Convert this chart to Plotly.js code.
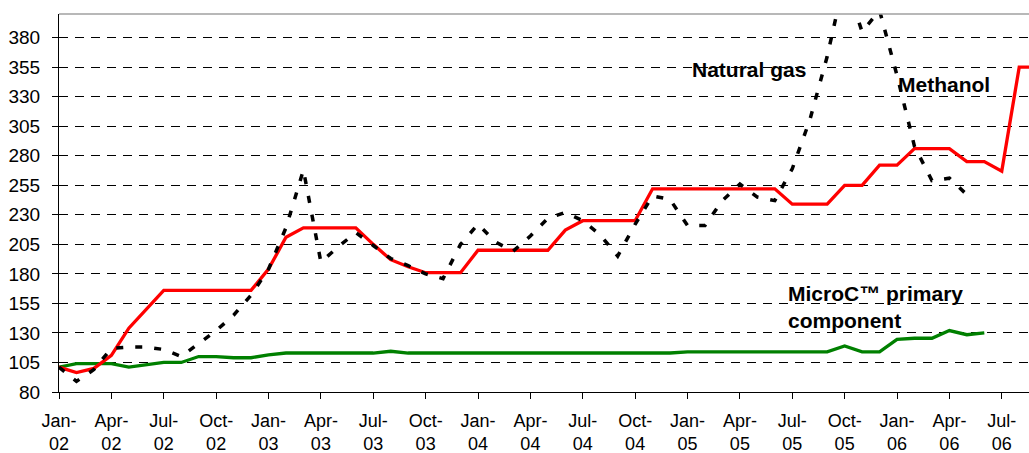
<!DOCTYPE html>
<html>
<head>
<meta charset="utf-8">
<script src="https://cdn.plot.ly/plotly-3.0.1.min.js"></script>
<style>
  html, body { margin: 0; padding: 0; background: #ffffff; }
  #chart { width: 1029px; height: 453px; }
</style>
</head>
<body>
<div id="chart"></div>
<script>
// Monthly categories Jan-02 .. Sep-06
const months = [
  "Jan-02","Feb-02","Mar-02","Apr-02","May-02","Jun-02","Jul-02","Aug-02","Sep-02","Oct-02","Nov-02","Dec-02",
  "Jan-03","Feb-03","Mar-03","Apr-03","May-03","Jun-03","Jul-03","Aug-03","Sep-03","Oct-03","Nov-03","Dec-03",
  "Jan-04","Feb-04","Mar-04","Apr-04","May-04","Jun-04","Jul-04","Aug-04","Sep-04","Oct-04","Nov-04","Dec-04",
  "Jan-05","Feb-05","Mar-05","Apr-05","May-05","Jun-05","Jul-05","Aug-05","Sep-05","Oct-05","Nov-05","Dec-05",
  "Jan-06","Feb-06","Mar-06","Apr-06","May-06","Jun-06","Jul-06","Aug-06","Sep-06"
];

// Methanol (red)
const methanol = [
  101, 96.5, 100, 111, 134, 150, 166, 166, 166, 166, 166, 166,
  184, 211, 219, 219, 219, 219, 205, 192, 186, 181, 181, 181,
  200, 200, 200, 200, 200, 217, 225, 225, 225, 225, 252, 252,
  252, 252, 252, 252, 252, 252, 239, 239, 239, 255, 255, 272,
  272, 286, 286, 286, 275, 275, 267, 355, 355
];

// Natural gas (black dashed)
const naturalGas = [
  101, 89, 99, 117, 118, 118, 116, 110, 121, 132, 145, 162,
  184, 219, 268, 190, 203, 215, 204, 193, 187, 180, 176, 205,
  222, 207, 199, 212, 227, 232, 225, 213, 195, 222, 246, 243,
  221, 221, 242, 256, 245, 242, 269, 310, 364, 430, 385, 403,
  348, 288, 259, 261, 247
];

// MicroC primary component (green)
const microC = [
  101, 104, 104, 104, 101, 103, 105, 105, 110, 110, 109, 109,
  111.5, 113, 113, 113, 113, 113, 113, 114.5, 113, 113, 113, 113,
  113, 113, 113, 113, 113, 113, 113, 113, 113, 113, 113, 113,
  114, 114, 114, 114, 114, 114, 114, 114, 114, 119, 114, 114,
  124.5, 125.5, 125.5, 132, 128.5, 130
];

// Axis tick labels (every third month)
const tickLabels = [
  "Jan-<br>02","Apr-<br>02","Jul-<br>02","Oct-<br>02",
  "Jan-<br>03","Apr-<br>03","Jul-<br>03","Oct-<br>03",
  "Jan-<br>04","Apr-<br>04","Jul-<br>04","Oct-<br>04",
  "Jan-<br>05","Apr-<br>05","Jul-<br>05","Oct-<br>05",
  "Jan-<br>06","Apr-<br>06","Jul-<br>06"
];
const tickMonths = [
  "Jan-02","Apr-02","Jul-02","Oct-02","Jan-03","Apr-03","Jul-03","Oct-03",
  "Jan-04","Apr-04","Jul-04","Oct-04","Jan-05","Apr-05","Jul-05","Oct-05",
  "Jan-06","Apr-06","Jul-06"
];
const yTicks = [80,105,130,155,180,205,230,255,280,305,330,355,380];

const idx = arr => arr.map((_, i) => i);
const tickVals = tickMonths.map(m => months.indexOf(m));

const FONT = "Liberation Sans, Arial, sans-serif";

const traces = [
  {
    x: idx(microC), y: microC, type: "scatter", mode: "lines",
    line: { color: "#008000", width: 3.3 }, name: "MicroC primary component",
    hoverinfo: "skip"
  },
  {
    x: idx(methanol), y: methanol, type: "scatter", mode: "lines",
    line: { color: "#ff0000", width: 3.3 }, name: "Methanol",
    hoverinfo: "skip"
  },
  {
    x: idx(naturalGas), y: naturalGas, type: "scatter", mode: "lines",
    line: { color: "#000000", width: 3.5, dash: "7px,12px" }, name: "Natural gas",
    hoverinfo: "skip"
  }
];

const layout = {
  width: 1029, height: 453,
  margin: { l: 59, r: 0, t: 14, b: 61, pad: 0 },
  paper_bgcolor: "#ffffff", plot_bgcolor: "#ffffff",
  showlegend: false,
  font: { family: FONT, color: "#000000" },
  xaxis: {
    range: [0, 55.56],
    tickmode: "array", tickvals: tickVals, ticktext: tickLabels,
    ticks: "outside", ticklen: 6, tickcolor: "#000", tickwidth: 1,
    tickfont: { family: FONT, size: 18, color: "#000" },
    ticklabelstandoff: 6,
    showline: true, linecolor: "#000", linewidth: 1,
    showgrid: false, zeroline: false, fixedrange: true
  },
  yaxis: {
    range: [80, 400],
    tickmode: "array", tickvals: yTicks, ticktext: yTicks.map(String),
    ticks: "outside", ticklen: 6, tickcolor: "#000", tickwidth: 1,
    tickfont: { family: FONT, size: 19, color: "#000" },
    ticklabelstandoff: 8,
    showline: true, linecolor: "#000", linewidth: 1,
    showgrid: true, gridcolor: "#000", gridwidth: 1, griddash: "9px,7px",
    zeroline: false, fixedrange: true
  },
  shapes: [
    { type: "line", xref: "paper", yref: "paper", x0: 0, x1: 1, y0: 1, y1: 1,
      line: { color: "#a0a0a0", width: 1.5 } }
  ],
  annotations: [
    { text: "Natural gas", xref: "x", yref: "y", x: 36.14, y: 353,
      xanchor: "left", yanchor: "middle", showarrow: false,
      font: { family: FONT, size: 21, weight: "bold", color: "#000" } },
    { text: "Methanol", xref: "x", yref: "y", x: 47.97, y: 340,
      xanchor: "left", yanchor: "middle", showarrow: false,
      font: { family: FONT, size: 21, weight: "bold", color: "#000" } },
    { text: "MicroC™ primary<br>component", xref: "x", yref: "y", x: 41.62, y: 152,
      xanchor: "left", yanchor: "middle", align: "left", showarrow: false,
      font: { family: FONT, size: 21, weight: "bold", color: "#000" } }
  ]
};

Plotly.newPlot("chart", traces, layout, { displayModeBar: false, staticPlot: true });
</script>
</body>
</html>
